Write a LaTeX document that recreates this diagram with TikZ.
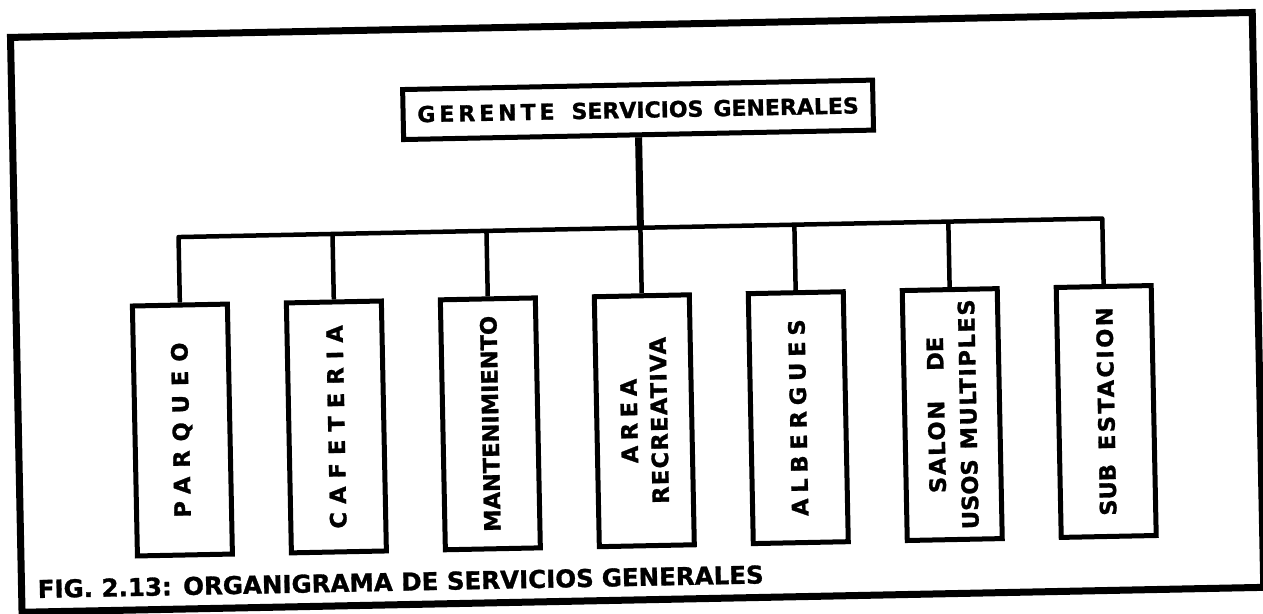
\documentclass[tikz,border=0pt]{standalone}
\usepackage{fontspec}
\setmainfont{DejaVu Sans}[BoldFeatures={FakeBold=1.2}]
\newcommand{\lsp}[2]{{\addfontfeature{LetterSpace=#1}#2}}

\begin{document}
\begin{tikzpicture}[x=1pt, y=-1pt,
    box/.style={draw=black, line width=5pt, fill=white, inner sep=0pt,
      font=\bfseries\fontsize{22.5}{26}\selectfont, align=center},
    unit/.style={box, rotate=90, minimum width=250pt, minimum height=95pt},
    link/.style={line width=4.5pt, line join=round}]
  \fill[white] (0,0) rectangle (1263,613);
  \useasboundingbox (0,0) rectangle (1263,613);
  \begin{scope}[rotate around={1.15:(631,306)}, transform shape]
   \draw[line width=7pt] (16,25) rectangle (1258,600);
   \node[box, minimum width=470pt, minimum height=50pt, font=\bfseries\fontsize{22}{25}\selectfont] (ger) at (642,110)
     {\lsp{18}{GERENTE}\hspace{17pt}SERVICIOS\hspace{10pt}GENERALES};
   \node[unit] (p1) at (180,421) {\lsp{40}{PARQUEO}};
   \node[unit] (p2) at (334,421) {\lsp{36}{CAFETERIA}};
   \node[unit] (p3) at (488,421) {MANTENIMIENTO};
   \node[unit] (p4) at (642,421) {\lsp{25}{AREA}\\[4pt] \lsp{6}{RECREATIVA}};
   \node[unit] (p5) at (796,421) {\lsp{26}{ALBERGUES}};
   \node[unit] (p6) at (950,421) {\lsp{8}{SALON}\hspace{30pt}DE\\[6pt] USOS\hspace{10pt}\lsp{7}{MULTIPLES}};
   \node[unit] (p7) at (1104,421) {SUB\hspace{14pt}\lsp{11}{ESTACION}};
   \coordinate (bus) at (642,228);

   \draw[link, line width=7pt] (ger) -- (bus);
   \draw[link] (p1.east) |- (bus) -| (p7.east);
   \foreach \i in {2,...,6}
     \draw[link] (p\i.east) -- (p\i.east |- bus);

   \node[anchor=base west, inner sep=0pt, font=\bfseries\fontsize{24.5}{28}\selectfont] (cap) at (32,586)
     {FIG. 2.13: ORGANIGRAMA DE SERVICIOS\hspace{8pt}GENERALES};
  \end{scope}
\end{tikzpicture}
\end{document}
